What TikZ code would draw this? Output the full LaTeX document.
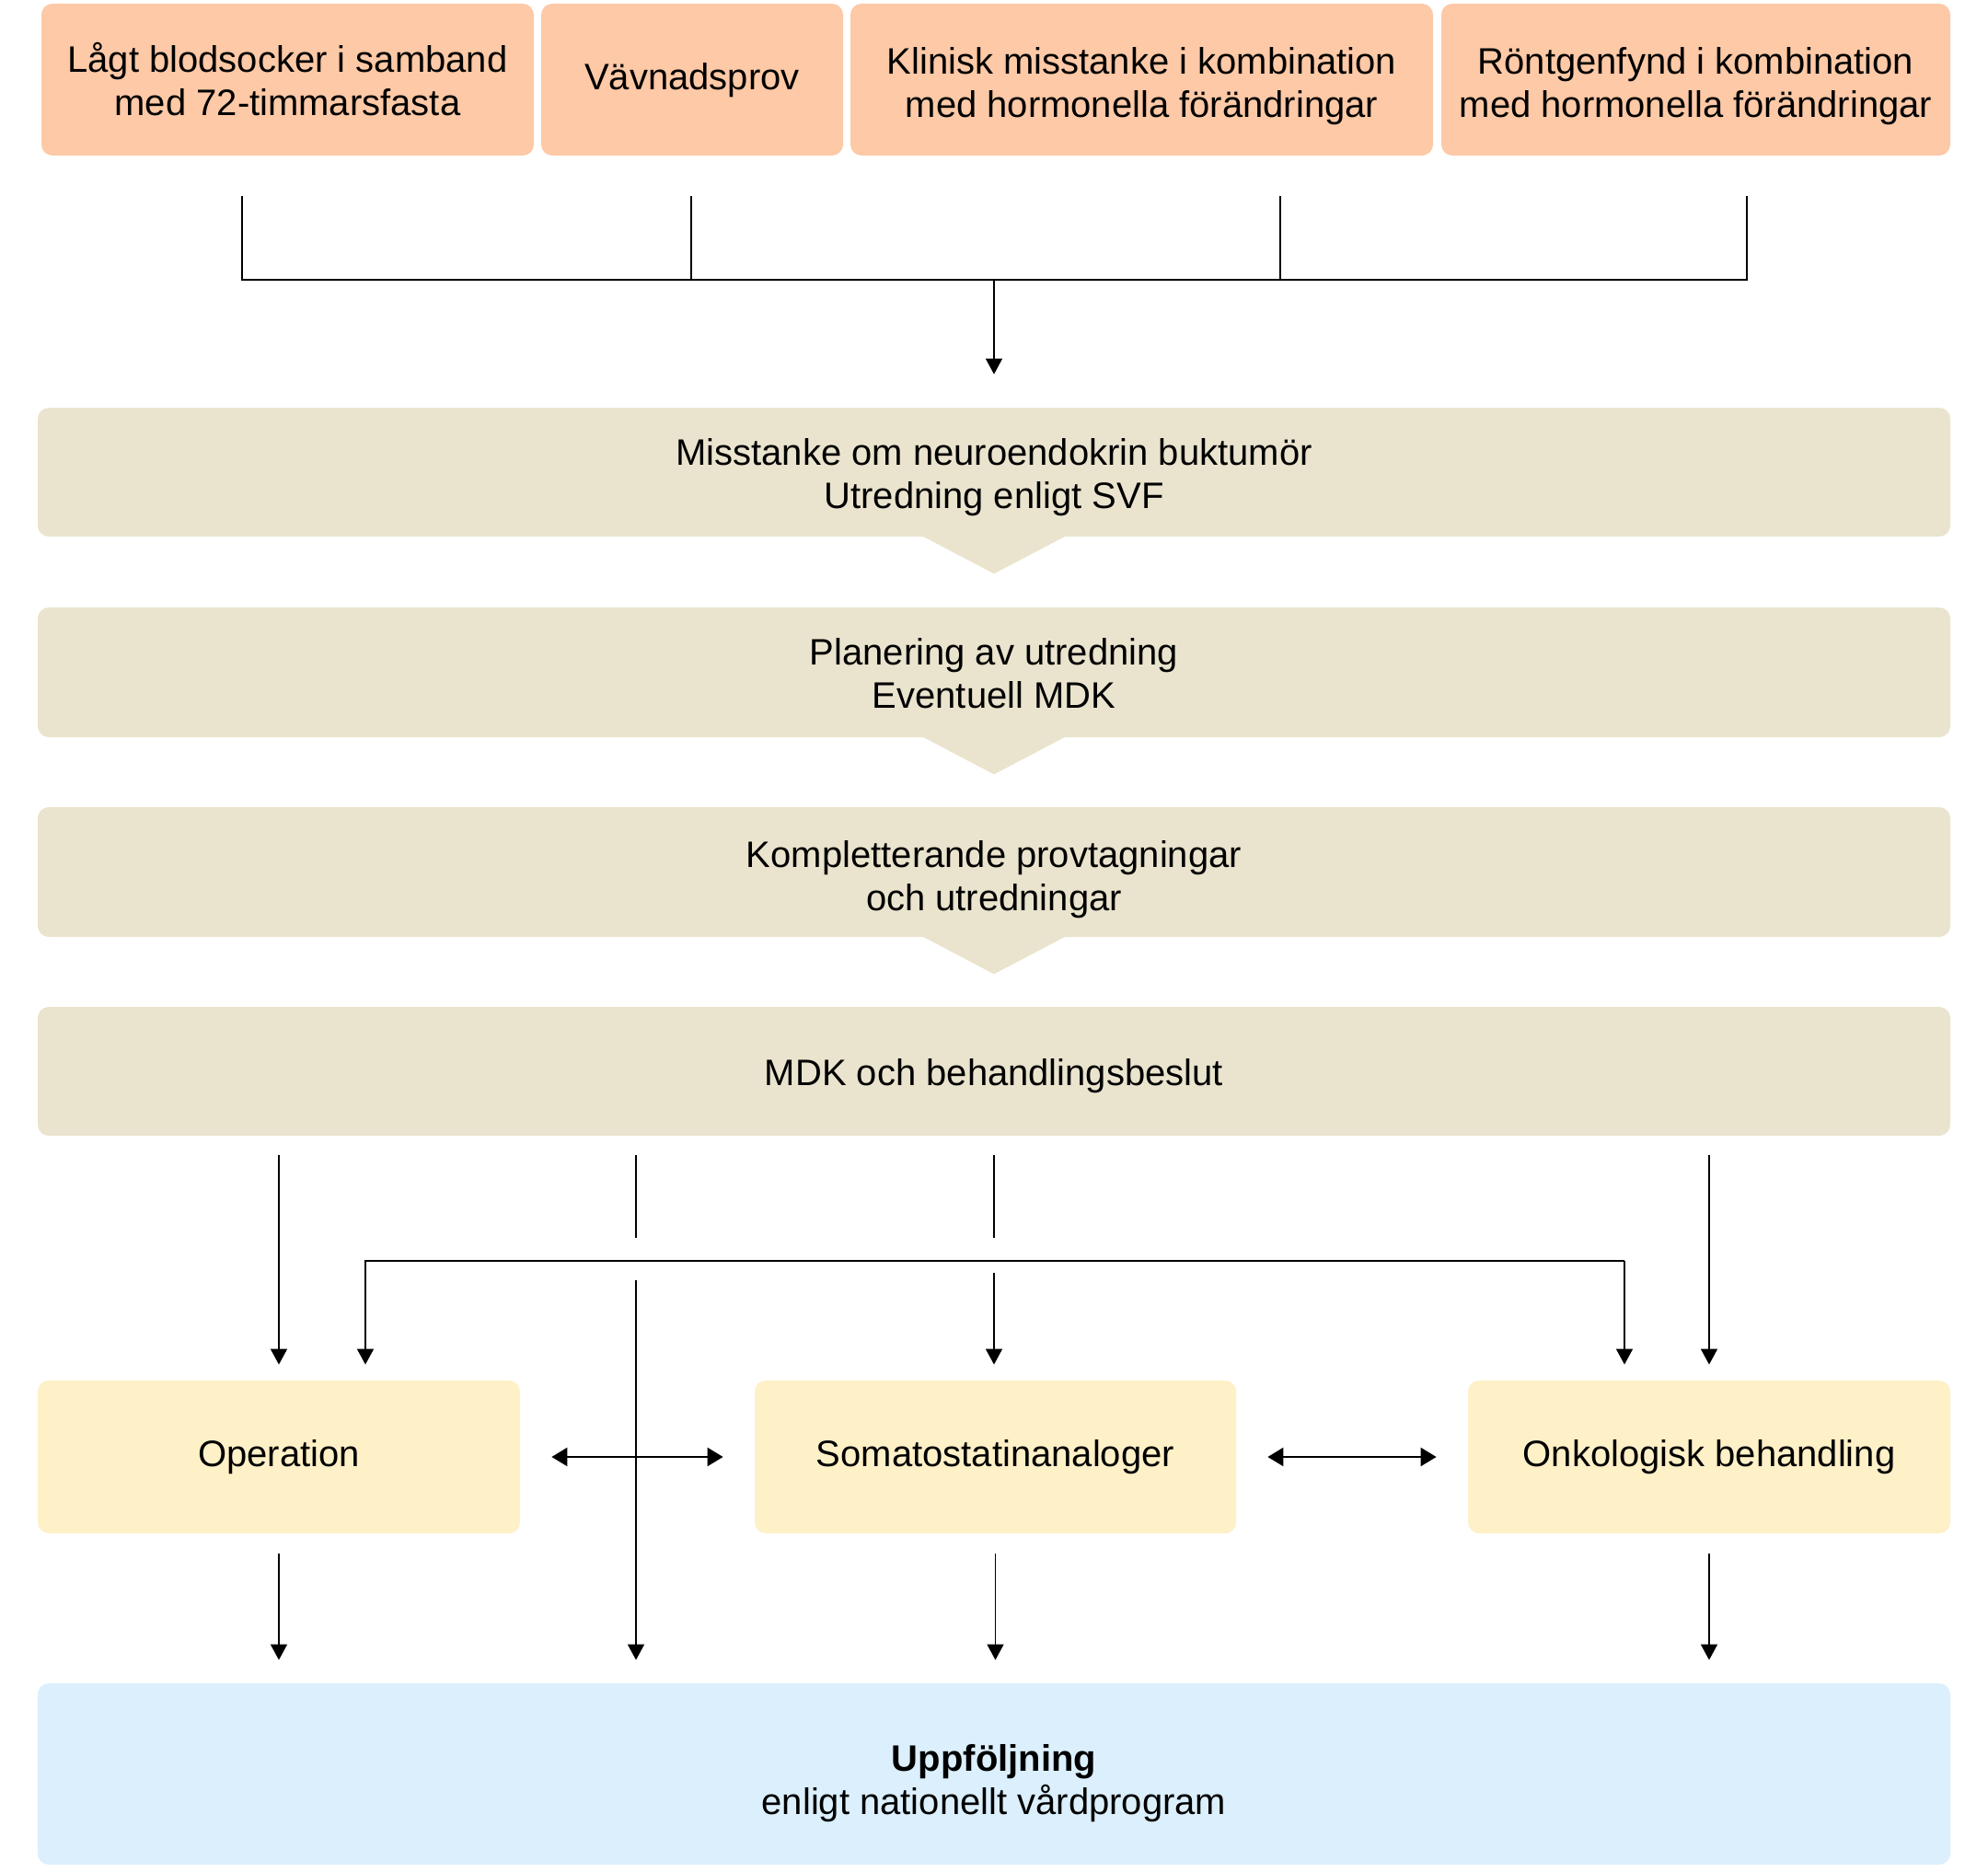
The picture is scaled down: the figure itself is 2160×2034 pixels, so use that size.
\documentclass[tikz,border=0pt]{standalone}
\usepackage{fontspec}
\setmainfont{Liberation Sans}
\usetikzlibrary{arrows.meta,positioning}
\definecolor{vppeach}{RGB}{253,201,166}
\definecolor{vpbeige}{RGB}{234,228,206}
\definecolor{vpyellow}{RGB}{254,240,199}
\definecolor{vpblue}{RGB}{219,239,252}
% name, x1, y1, x2, y2, colour, text drop, text
\newcommand{\flowbox}[8]{%
  \node[stagebox,fill=#6,minimum width={(#4-#2)*.5pt},minimum height={(#5-#3)*.5pt}]
    (#1) at ({(#2+#4)/2},{(#3+#5)/2}) {};
  \node[stagetext] (#1-t) at ({(#2+#4)/2},{(#3+#5)/2+#7}) {#8};
}
\newcommand{\chevron}[1]{%
  \fill[vpbeige] ([xshift=-39pt,yshift=.5pt]#1.south) -- ([yshift=-20pt]#1.south)
    -- ([xshift=39pt,yshift=.5pt]#1.south) -- cycle;
}

\begin{document}
\begin{tikzpicture}[x=.5pt,y=-.5pt,
    stagebox/.style={rectangle,rounded corners=6pt,inner sep=0pt},
    stagetext/.style={inner sep=0pt,align=center,font=\fontsize{20}{23.5}\selectfont},
    conn/.style={line width=.8pt},
    arr/.style={conn,-{Triangle[length=8.5pt,width=9pt]}},
    dbl/.style={line width=1.1pt,{Triangle[length=8.5pt,width=10pt]}-{Triangle[length=8.5pt,width=10pt]}}]
  \useasboundingbox (0,0) rectangle (2160,2034);
  % sources
  \flowbox{lagt}{45}{4}{580}{169}{vppeach}{0}{Lågt blodsocker i samband\\med 72-timmarsfasta}
  \flowbox{vavnad}{588}{4}{916}{169}{vppeach}{1}{Vävnadsprov}
  \flowbox{klinisk}{924}{4}{1557}{169}{vppeach}{7}{Klinisk misstanke i kombination\\med hormonella förändringar}
  \flowbox{rontgen}{1566}{4}{2119}{169}{vppeach}{7}{Röntgenfynd i kombination\\med hormonella förändringar}
  % main chain
  \flowbox{susp}{41}{443}{2119}{583}{vpbeige}{5.5}{Misstanke om neuroendokrin buktumör\\Utredning enligt SVF}
  \flowbox{plan}{41}{660}{2119}{801}{vpbeige}{1.5}{Planering av utredning\\Eventuell MDK}
  \flowbox{kompl}{41}{877}{2119}{1018}{vpbeige}{8}{Kompletterande provtagningar\\och utredningar}
  \flowbox{mdk}{41}{1094}{2119}{1234}{vpbeige}{5.5}{MDK och behandlingsbeslut}
  \chevron{susp}
  \chevron{plan}
  \chevron{kompl}
  % treatments
  \flowbox{op}{41}{1500}{565}{1666}{vpyellow}{0}{Operation}
  \flowbox{soma}{820}{1500}{1343}{1666}{vpyellow}{0}{Somatostatinanaloger}
  \flowbox{onko}{1595}{1500}{2119}{1666}{vpyellow}{0}{Onkologisk behandling}
  \flowbox{uppf}{41}{1829}{2119}{2026}{vpblue}{10}{\textbf{Uppföljning}\\enligt nationellt vårdprogram}

  \coordinate (t1) at (263,213);
  \coordinate (t2) at (751,213);
  \coordinate (t3) at (1391,213);
  \coordinate (t4) at (1898,213);
  \coordinate (hub) at (1080,304);
  \foreach \t in {t1,t2,t3,t4}{\draw[conn] (\t) |- (hub);}
  \draw[arr,shorten >=18pt] (hub) -- (susp.north);

  \coordinate (byA) at (691,1345);
  \coordinate (byB) at (691,1391);
  \coordinate (soA) at (1080,1345);
  \coordinate (soB) at (1080,1383);
  \coordinate (brL) at (397,1370);
  \coordinate (brR) at (1765,1370);
  \draw[arr,shorten <=10.5pt,shorten >=8.5pt] (mdk.south -| op.north) -- (op.north);
  \draw[conn,shorten <=10.5pt] (mdk.south -| byA) -- (byA);
  \draw[arr,shorten >=12.5pt] (byB) -- (byB |- uppf.north);
  \draw[conn,shorten <=10.5pt] (mdk.south -| soA) -- (soA);
  \draw[arr,shorten >=8.5pt] (soB) -- (soB |- soma.north);
  \draw[arr,shorten <=10.5pt,shorten >=8.5pt] (mdk.south -| onko.north) -- (onko.north);
  \draw[arr,shorten >=8.5pt] (brR) -| (brL |- op.north);
  \draw[arr,shorten >=8.5pt] (brR) -- (brR |- onko.north);

  \draw[dbl,shorten <=17pt,shorten >=17pt] (op.east) -- (soma.west);
  \draw[dbl,shorten <=17pt,shorten >=17pt] (soma.east) -- (onko.west);
  \foreach \n in {op,soma,onko}{\draw[arr,shorten <=11pt,shorten >=12.5pt] (\n.south) -- (\n.south |- uppf.north);}
\end{tikzpicture}
\end{document}
